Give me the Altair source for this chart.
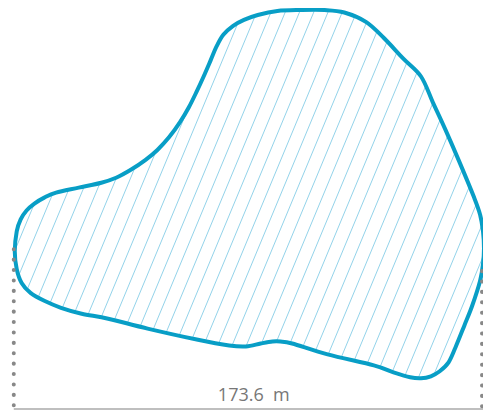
import numpy as np
import pandas as pd
import altair as alt

# Outline of the plot (px)
outline_x = [15, 17, 21, 27, 35, 45, 57, 80, 103, 118,
             133, 148, 160, 172, 183, 192, 200, 207, 214, 220,
             227, 237, 248, 262, 282, 305, 330, 350, 372, 390,
             410, 428, 440, 453, 467, 482, 488, 491, 492, 491,
             488, 480, 472, 463, 456, 447, 438, 428, 417, 400,
             380, 333, 297, 285, 277, 265, 250, 233, 200, 150,
             110, 83, 62, 45, 31, 22, 17]
outline_y = [250, 230, 218, 209, 202, 196, 191, 186, 181, 176,
             168, 158, 148, 135, 120, 105, 89, 74, 58, 44,
             32, 23, 17, 12, 8, 7, 7, 9.5, 19, 35,
             56, 74, 100, 128, 160, 196, 213, 230, 247, 263,
             280, 305, 325, 347, 362, 371, 376, 378, 377, 372,
             365, 354, 343, 341, 341, 343, 346, 345, 339, 328,
             318, 313, 307, 300, 292, 282, 268]

# Dimension guides
guide_x = [14, 490]
guide_top = [248, 270]
guide_bottom = 412
base_y = 409
label_text = "173.6\u00a0 m"
label_x = 258
label_y = 401

# hatch pattern (fill style), clipped to the outline polygon
HATCH_K = 0.42
HATCH_STEP = 14.5

def hatch_segments(xs, ys, k, step):
    pts = list(zip(xs, ys))
    u = [x + k * y for x, y in pts]
    segs = []
    c = min(u) + step * 0.5
    while c < max(u):
        hits = []
        n = len(pts)
        for i in range(n):
            (x1, y1), (x2, y2) = pts[i], pts[(i + 1) % n]
            u1, u2 = u[i], u[(i + 1) % n]
            if (u1 - c) * (u2 - c) < 0:
                t = (c - u1) / (u2 - u1)
                hits.append((x1 + t * (x2 - x1), y1 + t * (y2 - y1)))
        hits.sort(key=lambda p: p[1])
        for j in range(0, len(hits) - 1, 2):
            segs.append({"x": hits[j][0], "y": hits[j][1],
                         "x2": hits[j + 1][0], "y2": hits[j + 1][1]})
        c += step
    return pd.DataFrame(segs)

hatch_df = hatch_segments(outline_x, outline_y, HATCH_K, HATCH_STEP)
outline_df = pd.DataFrame({"x": outline_x, "y": outline_y, "i": range(len(outline_x))})
guide_df = pd.DataFrame({"x": guide_x, "y": guide_top, "y2": [guide_bottom] * 2})
base_df = pd.DataFrame({"x": [guide_x[0]], "x2": [guide_x[1] + 10], "y": [base_y]})
label_df = pd.DataFrame({"x": [label_x], "y": [label_y], "t": [label_text]})

W, H = 475, 402
xs = alt.Scale(domain=[8.13, 491], nice=False, zero=False)
ys = alt.Scale(domain=[4.985, 410.0], nice=False, zero=False, reverse=True)

hatch = alt.Chart(hatch_df).mark_rule(color="#93d3ea", strokeWidth=1).encode(
    x=alt.X("x:Q", scale=xs, axis=None), y=alt.Y("y:Q", scale=ys, axis=None),
    x2="x2:Q", y2="y2:Q")

outline = alt.Chart(outline_df).mark_line(
    interpolate="cardinal-closed", color="#089ec6", strokeWidth=4, strokeJoin="round"
).encode(x=alt.X("x:Q", scale=xs, axis=None), y=alt.Y("y:Q", scale=ys, axis=None),
         order="i:Q")

guides = alt.Chart(guide_df).mark_rule(
    color="#888888", strokeWidth=4, strokeCap="round", strokeDash=[0.1, 10.3]
).encode(x=alt.X("x:Q", scale=xs, axis=None), y=alt.Y("y:Q", scale=ys, axis=None), y2="y2:Q")

base = alt.Chart(base_df).mark_rule(color="#aaaaaa", strokeWidth=1.5).encode(
    x=alt.X("x:Q", scale=xs, axis=None), x2="x2:Q", y=alt.Y("y:Q", scale=ys, axis=None))

label = alt.Chart(label_df).mark_text(
    font="Open Sans", fontSize=18, color="#777777", align="center", baseline="alphabetic"
).encode(x=alt.X("x:Q", scale=xs, axis=None), y=alt.Y("y:Q", scale=ys, axis=None), text="t:N")

chart = alt.layer(hatch, outline, guides, base, label).properties(
    width=W, height=H, autosize="none", padding=0
).configure_view(stroke=None)

chart.save("out.html", embed_options={"renderer": "svg", "actions": False})
